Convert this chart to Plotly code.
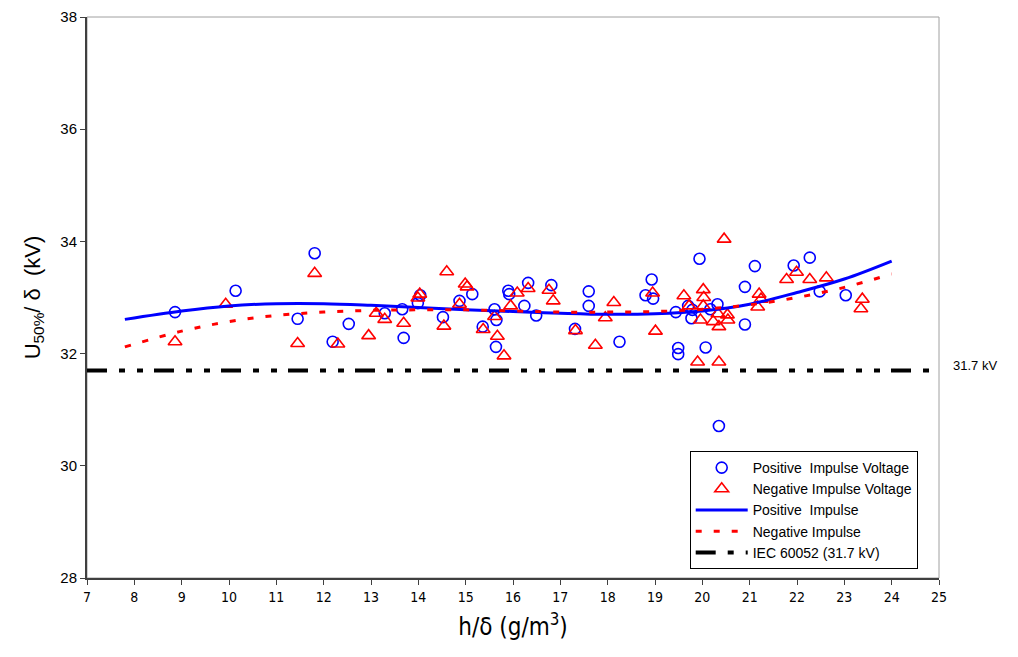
import plotly.graph_objects as go

# Positive impulse voltage measurements (h/delta, U50/delta)
pos_x = [8.86, 10.14, 11.81, 11.45, 12.19, 12.53, 13.29, 13.66, 13.69, 14.04, 13.99, 14.52, 14.87, 15.14,
         15.36, 15.61, 15.65, 15.64, 15.90, 15.92, 16.24, 16.32, 16.49, 16.81, 17.31, 17.60, 17.60, 18.25,
         18.93, 18.80, 18.96, 19.49, 19.49, 19.44, 19.70, 19.79, 19.77, 19.94, 20.07, 20.17, 20.32, 20.35,
         20.90, 20.90, 21.11, 21.93, 22.27, 22.48, 23.03]
pos_y = [32.74, 33.12, 33.79, 32.62, 32.21, 32.53, 32.72, 32.79, 32.28, 33.04, 32.90, 32.65, 32.94, 33.06,
         32.48, 32.79, 32.60, 32.12, 33.12, 33.06, 32.85, 33.26, 32.68, 33.22, 32.44, 33.11, 32.85, 32.21,
         33.32, 33.04, 32.98, 32.10, 31.99, 32.74, 32.85, 32.78, 32.63, 33.69, 32.11, 32.79, 32.88, 30.71,
         33.19, 32.52, 33.56, 33.57, 33.71, 33.11, 33.04]

# Negative impulse voltage measurements
neg_x = [8.86, 9.93, 11.81, 11.45, 12.30, 12.95, 13.11, 13.29, 13.69, 14.03, 13.99, 14.60, 14.54, 14.99,
         15.03, 14.87, 15.37, 15.61, 15.67, 15.81, 15.95, 16.09, 16.32, 16.76, 16.85, 17.32, 17.74, 17.95,
         18.13, 18.95, 19.01, 19.61, 19.72, 20.02, 20.03, 20.02, 19.96, 19.90, 20.35, 20.46, 20.23, 20.35,
         20.33, 20.53, 20.54, 21.20, 21.24, 21.17, 21.78, 21.99, 22.27, 22.62, 23.38, 23.35]
neg_y = [32.21, 32.88, 33.43, 32.18, 32.17, 32.32, 32.72, 32.61, 32.54, 33.06, 32.99, 33.46, 32.49, 33.24,
         33.19, 32.88, 32.43, 32.66, 32.31, 31.96, 32.85, 33.08, 33.16, 33.13, 32.94, 32.41, 32.15, 32.64,
         32.91, 33.08, 32.40, 33.03, 32.85, 33.14, 33.00, 32.85, 32.60, 31.85, 31.85, 34.04, 32.57, 32.48,
         32.71, 32.69, 32.60, 33.06, 32.97, 32.83, 33.32, 33.45, 33.32, 33.35, 32.97, 32.80]

# Trend curves
fit_x = [7.8, 9, 10, 11, 12, 13, 14, 15, 16, 17, 18, 19, 20, 21, 22, 23, 24]
pos_fit = [32.61, 32.76, 32.85, 32.89, 32.89, 32.86, 32.82, 32.78, 32.75, 32.72, 32.70, 32.71, 32.76,
           32.88, 33.09, 33.33, 33.65]
neg_fit = [32.12, 32.40, 32.57, 32.68, 32.74, 32.77, 32.78, 32.78, 32.76, 32.74, 32.74, 32.75, 32.79,
           32.87, 33.00, 33.18, 33.42]

iec_x = [7, 25]
iec_level = 31.7
iec_label = "31.7 kV"

font_main = "Liberation Sans, Arial, sans-serif"
font_narrow = "DejaVu Sans Condensed, Liberation Sans Narrow, Arial Narrow, sans-serif"

fig = go.Figure()
fig.add_trace(go.Scatter(x=pos_x, y=pos_y, mode="markers", name="Positive  Impulse Voltage",
                         marker=dict(symbol="circle-open", size=11, color="#0000ff", line=dict(width=1.6))))
fig.add_trace(go.Scatter(x=neg_x, y=neg_y, mode="markers", name="Negative Impulse Voltage",
                         marker=dict(symbol="triangle-up-open", size=12, color="#ff0000", line=dict(width=1.6))))
fig.add_trace(go.Scatter(x=fit_x, y=pos_fit, mode="lines", name="Positive  Impulse", line_shape="spline",
                         line=dict(color="#0000ff", width=3)))
fig.add_trace(go.Scatter(x=fit_x, y=neg_fit, mode="lines", name="Negative Impulse", line_shape="spline",
                         line=dict(color="#ff0000", width=3, dash="6px,12px")))
fig.add_trace(go.Scatter(x=iec_x, y=[iec_level, iec_level], mode="lines", name="IEC 60052 (31.7 kV)",
                         line=dict(color="#000000", width=4, dash="20px,12px,6px,12px,6px,11px")))

fig.add_annotation(x=1.0, y=iec_level, xref="paper", yref="y", text=iec_label, showarrow=False,
                   xanchor="left", xshift=12, yshift=5, font=dict(family=font_main, size=13, color="#000"))

fig.add_shape(type="rect", xref="paper", yref="paper", x0=0, y0=0, x1=1, y1=1,
              line=dict(color="#a0a0a0", width=1), layer="below")

fig.update_layout(
    width=1018, height=657,
    margin=dict(l=79, r=87, t=9, b=87, autoexpand=False),
    paper_bgcolor="white", plot_bgcolor="white",
    showlegend=True,
    legend=dict(x=0.975, y=0.016, xanchor="right", yanchor="bottom", bgcolor="white",
                bordercolor="#000", borderwidth=1, font=dict(family=font_main, size=14, color="#000"),
                tracegroupgap=0, itemwidth=52),
    font=dict(family=font_main, color="#000"),
)
fig.update_xaxes(range=[7, 25], dtick=1, tick0=7, showgrid=False, zeroline=False, automargin=False,
                 showline=True, linecolor="#404040", linewidth=2, ticks="outside", ticklen=5,
                 tickcolor="#404040", tickfont=dict(family=font_narrow, size=14, color="#000"),
                 title=dict(text="h/δ (g/m<sup>3</sup>)", font=dict(family=font_narrow, size=24), standoff=14))
fig.update_yaxes(range=[28, 38], dtick=2, showgrid=False, zeroline=False, automargin=False,
                 showline=True, linecolor="#404040", linewidth=2, ticks="outside", ticklen=5,
                 tickcolor="#404040", tickfont=dict(family=font_main, size=15, color="#000"),
                 title=dict(text="U<sub>50%</sub>/ δ  (kV)", font=dict(family=font_main, size=22), standoff=14))

fig.write_html("out.html")
